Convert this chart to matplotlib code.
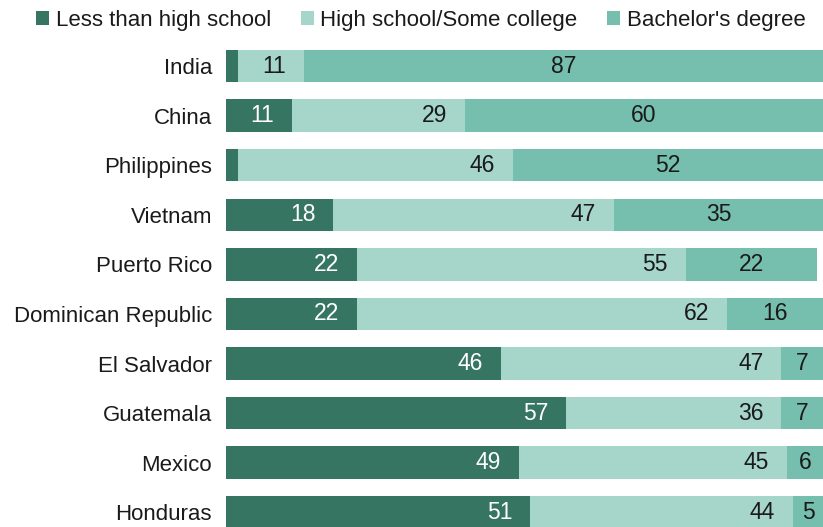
import matplotlib
matplotlib.use("Agg")
import matplotlib.pyplot as plt
from matplotlib.patches import Patch
import numpy as np

countries = ["India", "China", "Philippines", "Vietnam", "Puerto Rico",
             "Dominican Republic", "El Salvador", "Guatemala", "Mexico", "Honduras"]
less_hs = [2, 11, 2, 18, 22, 22, 46, 57, 49, 51]
hs_some = [11, 29, 46, 47, 55, 62, 47, 36, 45, 44]
bachelor = [87, 60, 52, 35, 22, 16, 7, 7, 6, 5]
series_names = ["Less than high school", "High school/Some college", "Bachelor's degree"]

colors = ["#377563", "#a6d5ca", "#76bfae"]
font = ["Liberation Sans", "DejaVu Sans"]
ink = "#1a1a1a"

W, H = 823, 527
fig = plt.figure(figsize=(W / 100, H / 100), dpi=100)

# bars: pitch ~49.6 px, first bar top at ~50 px, last bar runs off the bottom edge
h = 0.655
top_px = 49.8
pitch = 49.58
ax_h_px = H - top_px
ax = fig.add_axes([226 / W, 0, (W - 226) / W, ax_h_px / H])

y = np.arange(len(countries))
left = np.zeros(len(countries))
for vals, col in zip([less_hs, hs_some, bachelor], colors):
    vals = np.array(vals, dtype=float)
    ax.barh(y, vals, left=left, height=h, color=col, edgecolor="none")
    left += vals

# value labels: first two segments right-aligned near their end, last one centered
for i in range(len(countries)):
    a, b, c = less_hs[i], hs_some[i], bachelor[i]
    if a >= 5:
        ax.text(a - 3, i, str(a), ha="right", va="center", color="white",
                fontsize=16.5, family=font)
    ax.text(a + b - 3, i, str(b), ha="right", va="center", color=ink,
            fontsize=16.5, family=font)
    ax.text(a + b + c / 2, i, str(c), ha="center", va="center", color=ink,
            fontsize=16.5, family=font)

ax.set_xlim(0, 100)
ax.set_ylim(-h / 2 + ax_h_px / pitch, -h / 2)
ax.set_yticks(y)
ax.set_yticklabels(countries, fontsize=16, family=font, color=ink)
ax.tick_params(axis="y", length=0, pad=10)
ax.set_xticks([])
for s in ax.spines.values():
    s.set_visible(False)

handles = [Patch(facecolor=c, edgecolor="none") for c in colors]
fig.legend(handles, series_names, loc="upper left",
           bbox_to_anchor=(36 / W, 1 - 10 / H), ncol=3, frameon=False,
           borderpad=0, borderaxespad=0,
           handlelength=0.58, handleheight=0.58, handletextpad=0.3,
           columnspacing=1.35, prop={"family": font, "size": 16},
           labelcolor=ink)

fig.savefig("out.png", dpi=100)
